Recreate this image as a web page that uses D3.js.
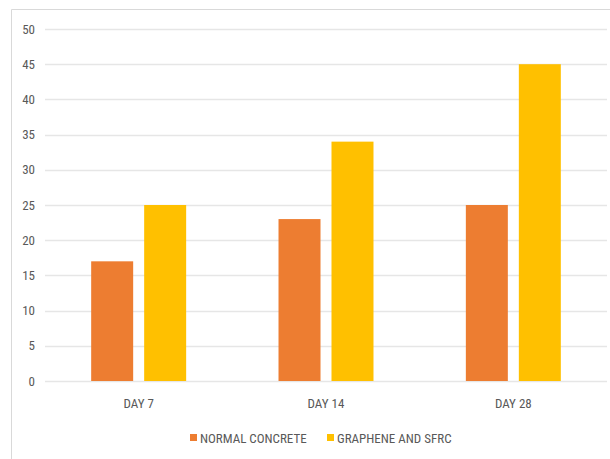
<!DOCTYPE html>
<html><head><meta charset="utf-8">
<script src="https://cdn.jsdelivr.net/npm/d3@7"></script>
<style>
html,body{margin:0;padding:0;background:#fff;}
svg{display:block;}
text{font-family:"Liberation Sans Narrow","Roboto Condensed","DejaVu Sans Condensed",sans-serif;fill:#595959;}
</style></head>
<body>
<svg id="chart" width="610" height="459"></svg>
<script>
const categories = ["DAY 7", "DAY 14", "DAY 28"];
const seriesNames = ["NORMAL CONCRETE", "GRAPHENE AND SFRC"];
const normalConcrete = [17, 23, 25];
const grapheneSfrc = [25, 34, 45];
const yTicks = [0, 5, 10, 15, 20, 25, 30, 35, 40, 45, 50];
const colors = ["#ED7D31", "#FFC000"];

const series = [normalConcrete, grapheneSfrc];
const svg = d3.select("#chart");

// frame
svg.append("path").attr("d", "M11.5,459 V9.5 H610")
  .attr("fill", "none").attr("stroke", "#d9d9d9").attr("stroke-width", 1);

const plotL = 45, plotR = 607, plotT = 29, plotB = 381;
const y = d3.scaleLinear().domain([0, 50]).range([plotB, plotT]);
const x0 = d3.scaleBand().domain(categories).range([plotL, plotR]).paddingInner(0.493).paddingOuter(0.2465);
const x1 = d3.scaleBand().domain(seriesNames).range([0, x0.bandwidth()]).paddingInner(0.2075);

// gridlines
svg.append("g").selectAll("line").data(yTicks).join("line")
  .attr("x1", plotL).attr("x2", plotR)
  .attr("y1", d => Math.round(y(d)) + 0.5).attr("y2", d => Math.round(y(d)) + 0.5)
  .attr("stroke", "#e6e6e6").attr("stroke-width", 1.3);

// y labels
svg.append("g").selectAll("text").data(yTicks).join("text")
  .attr("x", 35).attr("y", d => y(d)).attr("dy", "0.35em")
  .attr("text-anchor", "end").attr("font-size", 13).text(d => d);

// bars
const g = svg.append("g");
categories.forEach((c, i) => {
  seriesNames.forEach((s, j) => {
    g.append("rect")
      .attr("x", x0(c) + x1(s)).attr("width", x1.bandwidth())
      .attr("y", y(series[j][i])).attr("height", y(0) - y(series[j][i]))
      .attr("fill", colors[j]);
  });
});

// x labels
svg.append("g").selectAll("text").data(categories).join("text")
  .attr("x", d => x0(d) + x0.bandwidth() / 2).attr("y", 403).attr("dy", "0.35em")
  .attr("text-anchor", "middle").attr("font-size", 13).text(d => d);

// legend
const legendX = [190, 327];
const lg = svg.append("g");
seriesNames.forEach((s, j) => {
  lg.append("rect").attr("x", legendX[j]).attr("y", 434).attr("width", 7).attr("height", 7).attr("fill", colors[j]);
  lg.append("text").attr("x", legendX[j] + 10).attr("y", 438).attr("dy", "0.35em")
    .attr("font-size", 13).text(s);
});
</script>
</body></html>
